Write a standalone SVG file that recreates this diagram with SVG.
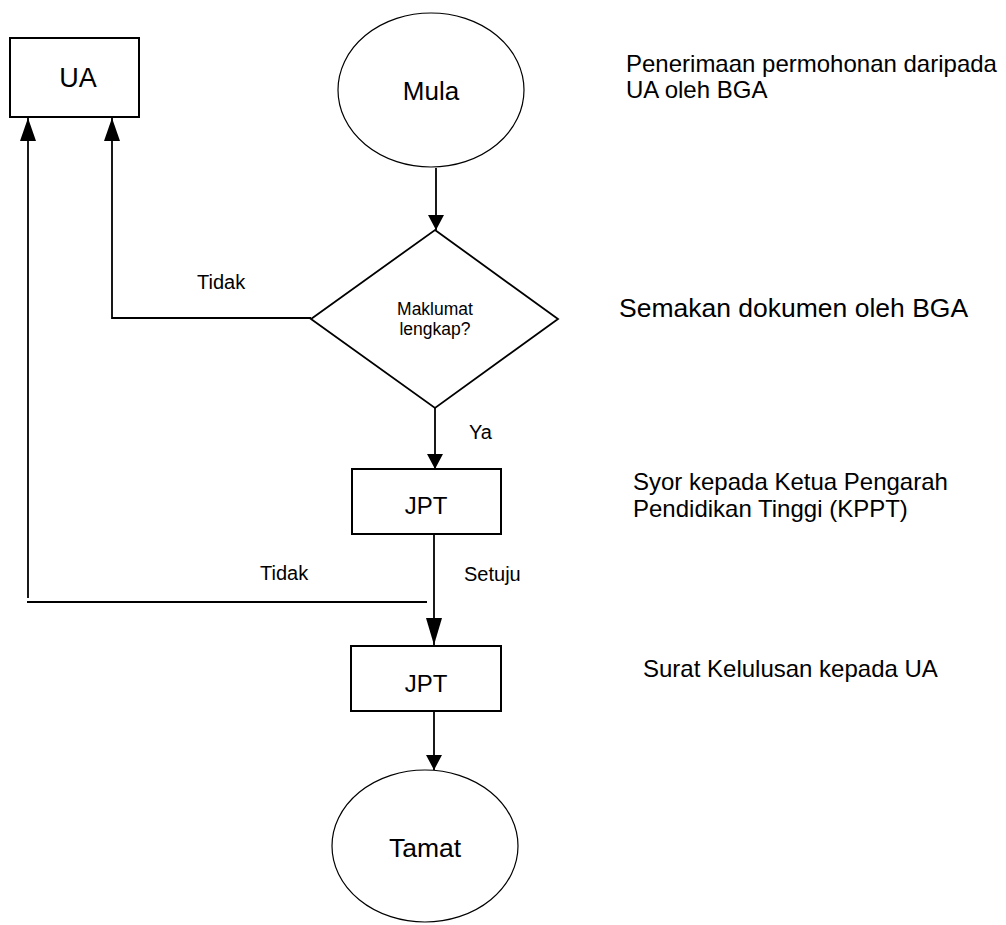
<svg xmlns="http://www.w3.org/2000/svg" width="1006" height="925" viewBox="0 0 1006 925">
<style>
text{font-family:"Liberation Sans",Arial,sans-serif;fill:#000}
.box{fill:#fff;stroke:#000;stroke-width:2}
.ell{fill:#fff;stroke:#000;stroke-width:1.2}
.dia{fill:#fff;stroke:#000;stroke-width:1.8}
.con{fill:none;stroke:#000;stroke-width:1.8}
.c{text-anchor:middle}
.ann{font-size:24px}
.lbl{font-size:20px}
</style>
<defs>
<marker id="ah" markerUnits="userSpaceOnUse" markerWidth="16" markerHeight="16" refX="15" refY="8" orient="auto"><path d="M0,0 L15,8 L0,16 Z" fill="#000"/></marker>
<marker id="ahL" markerUnits="userSpaceOnUse" markerWidth="24" markerHeight="16" refX="23" refY="8" orient="auto"><path d="M0,0 L23,8 L0,16 Z" fill="#000"/></marker>
<marker id="ahXL" markerUnits="userSpaceOnUse" markerWidth="28" markerHeight="16" refX="27" refY="8" orient="auto"><path d="M0,0 L27,8 L0,16 Z" fill="#000"/></marker>
</defs>
<rect width="1006" height="925" fill="#fff"/>
<g id="connectors">
<line class="con" x1="436" y1="168" x2="436" y2="230" marker-end="url(#ah)"/>
<line class="con" x1="435" y1="408" x2="435" y2="469" marker-end="url(#ah)"/>
<line class="con" x1="434" y1="534" x2="434" y2="645" marker-end="url(#ahXL)"/>
<line class="con" x1="434" y1="711" x2="434" y2="770" marker-end="url(#ah)"/>
<polyline class="con" points="311,318 112,318 112,118" marker-end="url(#ahL)"/>
<line class="con" x1="427" y1="602" x2="27" y2="602"/>
<line class="con" x1="28" y1="598" x2="28" y2="118" marker-end="url(#ahL)"/>
<text class="lbl" x="197" y="289">Tidak</text>
<text class="lbl" x="469" y="439">Ya</text>
<text class="lbl" x="260" y="580">Tidak</text>
<text class="lbl" x="464" y="581">Setuju</text>
</g>
<g id="ua">
<rect class="box" x="10" y="38" width="129" height="79"/>
<text class="c" x="78" y="87" font-size="27">UA</text>
</g>
<g id="mula">
<ellipse class="ell" cx="431" cy="90" rx="93" ry="77"/>
<text class="c" x="431" y="100" font-size="26">Mula</text>
</g>
<g id="decision">
<polygon class="dia" points="435,230 558,319 435,408 311,319"/>
<text class="c" x="435" y="315" font-size="17.5">Maklumat</text>
<text class="c" x="435" y="335" font-size="17.5">lengkap?</text>
</g>
<g id="jpt1">
<rect class="box" x="352" y="469" width="149" height="65"/>
<text class="c" x="426" y="514" font-size="24">JPT</text>
</g>
<g id="jpt2">
<rect class="box" x="351" y="646" width="150" height="65"/>
<text class="c" x="426" y="692" font-size="24">JPT</text>
</g>
<g id="tamat">
<ellipse class="ell" cx="425" cy="846" rx="93" ry="76"/>
<text class="c" x="425" y="857" font-size="26.5">Tamat</text>
</g>
<g id="annotations">
<text class="ann" x="626" y="72">Penerimaan permohonan daripada</text>
<text class="ann" x="626" y="98">UA oleh BGA</text>
<text x="619" y="317" font-size="26.5">Semakan dokumen oleh BGA</text>
<text class="ann" x="633" y="490">Syor kepada Ketua Pengarah</text>
<text class="ann" x="633" y="517">Pendidikan Tinggi (KPPT)</text>
<text class="ann" x="643" y="677">Surat Kelulusan kepada UA</text>
</g>
</svg>
